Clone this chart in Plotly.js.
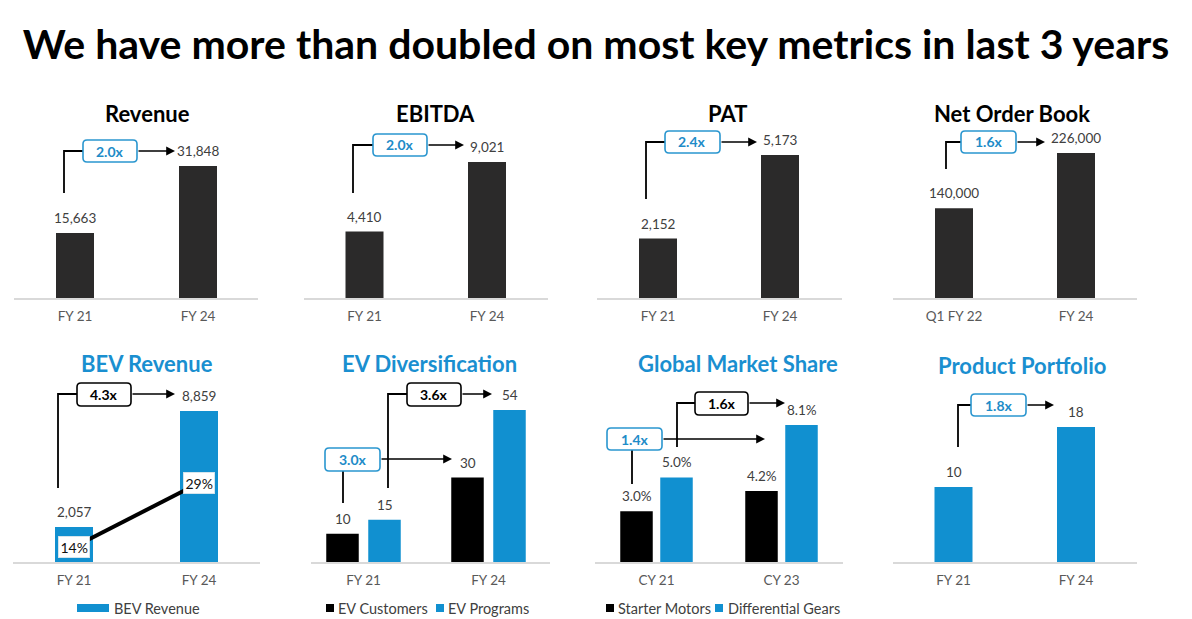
<!DOCTYPE html>
<html><head><meta charset="utf-8">
<script src="https://cdn.plot.ly/plotly-3.0.1.min.js"></script>
<style>html,body{margin:0;padding:0;background:#fff}#chart{width:1192px;height:619px}</style>
</head><body><div id="chart"></div>
<script>
// ---------------- data ----------------
const mainTitle = 'We have more than doubled on most key metrics in last 3 years';
const panelTitles = ['Revenue', 'EBITDA', 'PAT', 'Net Order Book', 'BEV Revenue', 'EV Diversification', 'Global Market Share', 'Product Portfolio'];
const fyPeriods = ['FY 21', 'FY 24'];
const orderBookPeriods = ['Q1 FY 22', 'FY 24'];
const cyPeriods = ['CY 21', 'CY 23'];
const revenue = [15663, 31848];
const ebitda = [4410, 9021];
const pat = [2152, 5173];
const netOrderBook = [140000, 226000];
const bevRevenue = [2057, 8859];
const bevShare = [14, 29];
const evCustomers = [10, 30];
const evPrograms = [15, 54];
const starterMotors = [3.0, 4.2];
const differentialGears = [5.0, 8.1];
const productPortfolio = [10, 18];
const seriesNames = { bev: 'BEV Revenue', evCust: 'EV Customers', evProg: 'EV Programs', starter: 'Starter Motors', diff: 'Differential Gears' };
const multiples = { revenue: '2.0x', ebitda: '2.0x', pat: '2.4x', orderBook: '1.6x', bev: '4.3x', evCust: '3.0x', evProg: '3.6x', starter: '1.4x', diff: '1.6x', portfolio: '1.8x' };

// ---------------- geometry / style ----------------
const W = 1192, H = 619;
const px = x => x / W, py = y => 1 - y / H;
const FONT = 'Lato, "Open Sans", sans-serif';
const DARK = '#2b2a2a', BLACK = '#000000', BLUE = '#1190d0', TITLEBLUE = '#1a8fd0', BOXBLUE = '#2a96cf', LABEL = '#404040', TICK = '#595959';

const geo = [
  {xl: 14,  xr: 258,  c0: 75,    c1: 198,   base: 298, top: 125, tall: 166},
  {xl: 304, xr: 548,  c0: 364.5, c1: 487,   base: 298, top: 125, tall: 162},
  {xl: 597, xr: 842,  c0: 658,   c1: 780,   base: 298, top: 125, tall: 155},
  {xl: 893, xr: 1137, c0: 954,   c1: 1076,  base: 298, top: 125, tall: 153},
  {xl: 13,  xr: 260,  c0: 74,    c1: 199,   base: 562, top: 380, tall: 411},
  {xl: 311, xr: 550,  c0: 363.5, c1: 488.5, base: 562, top: 380, tall: 410},
  {xl: 595, xr: 843,  c0: 656.5, c1: 781.5, base: 562, top: 380, tall: 425},
  {xl: 893, xr: 1137, c0: 953.5, c1: 1076,  base: 562, top: 380, tall: 427}
];
const panelSeries = [[revenue], [ebitda], [pat], [netOrderBook], [bevRevenue], [evCustomers, evPrograms], [starterMotors, differentialGears], [productPortfolio]];

const ax = i => (i === 0 ? '' : String(i + 1));
const traces = [];
const annotations = [];
const shapes = [];
const layout = {
  width: W, height: H,
  margin: {l: 0, r: 0, t: 0, b: 0},
  paper_bgcolor: '#fff', plot_bgcolor: 'rgba(0,0,0,0)',
  showlegend: false, barmode: 'group',
  font: {family: FONT, color: LABEL},
  title: {text: mainTitle, x: 0.5, xanchor: 'center', xref: 'paper', y: 1 - 45 / H, yanchor: 'middle', yref: 'container',
          font: {family: FONT, size: 41, color: '#000', weight: 'bold'}},
  annotations, shapes
};

// axes
geo.forEach((g, i) => {
  const span = g.c1 - g.c0;
  const maxVal = Math.max(...panelSeries[i].flat());
  layout['xaxis' + ax(i)] = {
    domain: [px(g.xl), px(g.xr)], anchor: 'y' + ax(i), type: 'category',
    range: [(g.xl - g.c0) / span, (g.xr - g.c0) / span],
    showline: true, linecolor: '#d9d9d9', linewidth: 1.5, ticks: '', showgrid: false, zeroline: false,
    ticklabelstandoff: 5,
    tickfont: {family: FONT, size: 13.5, color: TICK}, fixedrange: true
  };
  layout['yaxis' + ax(i)] = {
    domain: [py(g.base), py(g.top)], anchor: 'x' + ax(i), visible: false,
    range: [0, (g.base - g.top) * maxVal / (g.base - g.tall)], fixedrange: true
  };
});
// secondary axis for BEV share line
(function () {
  const g = geo[4];
  const pxPer = (547 - 483) / (bevShare[1] - bevShare[0]);
  const lo = bevShare[0] - (g.base - 547) / pxPer;
  const hi = bevShare[0] + (547 - g.top) / pxPer;
  layout.yaxis9 = {overlaying: 'y5', anchor: 'x5', visible: false, range: [lo, hi], fixedrange: true};
})();

const fmtNum = v => v.toLocaleString('en-US');
const fmtPct = v => v.toFixed(1) + '%';

function addBars(i, cats, vals, color, name, widthPx, centerPx, fmt) {
  const g = geo[i], span = g.c1 - g.c0;
  const w = widthPx / span, off = centerPx / span - w / 2;
  traces.push({type: 'bar', x: cats, y: vals, name: name, xaxis: 'x' + ax(i), yaxis: 'y' + ax(i),
    marker: {color: color}, width: w, offset: off, hoverinfo: 'x+y'});
  vals.forEach((v, k) => annotations.push({
    x: k + off + w / 2, y: v, xref: 'x' + ax(i), yref: 'y' + ax(i), yshift: 15,
    text: fmt(v), showarrow: false, xanchor: 'center', yanchor: 'middle',
    font: {family: FONT, size: 13.5, color: LABEL}
  }));
}
addBars(0, fyPeriods, revenue, DARK, panelTitles[0], 38, 0, fmtNum);
addBars(1, fyPeriods, ebitda, DARK, panelTitles[1], 38, 0, fmtNum);
addBars(2, fyPeriods, pat, DARK, panelTitles[2], 38, 0, fmtNum);
addBars(3, orderBookPeriods, netOrderBook, DARK, panelTitles[3], 38, 0, fmtNum);
addBars(4, fyPeriods, bevRevenue, BLUE, seriesNames.bev, 38, 0, fmtNum);
addBars(5, fyPeriods, evCustomers, BLACK, seriesNames.evCust, 32.5, -21, fmtNum);
addBars(5, fyPeriods, evPrograms, BLUE, seriesNames.evProg, 32.5, 21, fmtNum);
addBars(6, cyPeriods, starterMotors, BLACK, seriesNames.starter, 32.5, -20, fmtPct);
addBars(6, cyPeriods, differentialGears, BLUE, seriesNames.diff, 32.5, 20, fmtPct);
addBars(7, fyPeriods, productPortfolio, BLUE, panelTitles[7], 38, 0, fmtNum);

// BEV share line
traces.push({type: 'scatter', mode: 'lines', x: fyPeriods, y: bevShare, xaxis: 'x5', yaxis: 'y9',
  line: {color: '#000', width: 4}, name: 'BEV share', hoverinfo: 'y'});
bevShare.forEach((v, k) => annotations.push({
  x: k, y: v, xref: 'x5', yref: 'y9', text: v + '%', showarrow: false,
  bgcolor: '#fff', bordercolor: '#e6e6e6', borderwidth: 0.5, borderpad: 2,
  font: {family: FONT, size: 14, color: '#111'}
}));

// panel titles
const titlePos = [[147, 114], [435, 114], [727, 114], [1012, 114], [147, 363], [429, 363], [738, 363], [1022, 365]];
panelTitles.forEach((t, i) => annotations.push({
  x: px(titlePos[i][0]), y: py(titlePos[i][1]), xref: 'paper', yref: 'paper', text: t, showarrow: false,
  xanchor: 'center', yanchor: 'middle',
  font: {family: FONT, size: 22, color: i < 4 ? '#000' : TITLEBLUE, weight: 'bold'}
}));

// helpers for connectors
const P = (x, y) => px(x).toFixed(5) + ',' + py(y).toFixed(5);
function poly(points) {
  shapes.push({type: 'path', xref: 'paper', yref: 'paper', path: 'M' + points.map(p => P(p[0], p[1])).join('L'),
    line: {color: '#000', width: 1.8}});
}
function box(x0, y0, x1, y1, color, label) {
  const r = 4;
  const d = 'M' + P(x0 + r, y0) + 'L' + P(x1 - r, y0) + 'Q' + P(x1, y0) + ' ' + P(x1, y0 + r) +
    'L' + P(x1, y1 - r) + 'Q' + P(x1, y1) + ' ' + P(x1 - r, y1) + 'L' + P(x0 + r, y1) +
    'Q' + P(x0, y1) + ' ' + P(x0, y1 - r) + 'L' + P(x0, y0 + r) + 'Q' + P(x0, y0) + ' ' + P(x0 + r, y0) + 'Z';
  shapes.push({type: 'path', xref: 'paper', yref: 'paper', path: d, fillcolor: '#fff', line: {color: color === 'blue' ? BOXBLUE : '#000', width: 1.6}});
  annotations.push({x: px((x0 + x1) / 2), y: py((y0 + y1) / 2), xref: 'paper', yref: 'paper', text: label, showarrow: false,
    xanchor: 'center', yanchor: 'middle', font: {family: FONT, size: 14, color: color === 'blue' ? '#1e8cc8' : '#000', weight: 'bold'}});
}
function arrow(xFrom, xTo, y) {
  annotations.push({x: px(xTo), y: py(y), xref: 'paper', yref: 'paper', text: '', showarrow: true,
    ax: -(xTo - xFrom), ay: 0, axref: 'pixel', ayref: 'pixel', arrowhead: 2, arrowsize: 1.1, arrowwidth: 1.6, arrowcolor: '#000', standoff: 0, startstandoff: 0});
}

// top row
poly([[64, 193], [64, 151], [83, 151]]); box(83, 140, 137, 162, 'blue', multiples.revenue); arrow(137, 175, 151);
poly([[353, 193], [353, 145], [373, 145]]); box(373, 134, 427, 156, 'blue', multiples.ebitda); arrow(427, 464, 145);
poly([[646, 199], [646, 142], [665, 142]]); box(665, 131, 720, 153, 'blue', multiples.pat); arrow(720, 757, 142);
poly([[946, 169], [946, 142], [961, 142]]); box(961, 131, 1016, 153, 'blue', multiples.orderBook); arrow(1016, 1045, 142);
// bottom row
poly([[58, 488], [58, 394], [77, 394]]); box(77, 383, 131, 406, 'black', multiples.bev); arrow(131, 175, 394);
poly([[343, 471], [343, 503]]); arrow(380, 452, 459); box(325, 448, 380, 471, 'blue', multiples.evCust);
poly([[388, 488], [388, 394], [407, 394]]); box(407, 383, 461, 406, 'black', multiples.evProg); arrow(461, 492, 394);
poly([[632, 450], [632, 484]]); arrow(662, 765, 439); box(607, 428, 662, 450, 'blue', multiples.starter);
poly([[677, 447], [677, 403], [695, 403]]); box(695, 392, 748, 415, 'black', multiples.diff); arrow(748, 785, 403);
poly([[958, 447], [958, 405], [971, 405]]); box(971, 394, 1026, 416, 'blue', multiples.portfolio); arrow(1026, 1054, 405);

// manual legends
function legendItem(x0, x1, color, textX, label) {
  shapes.push({type: 'rect', xref: 'paper', yref: 'paper', x0: px(x0), x1: px(x1), y0: py(612), y1: py(604), fillcolor: color, line: {width: 0}});
  annotations.push({x: px(textX), y: py(608), xref: 'paper', yref: 'paper', text: label, showarrow: false, xanchor: 'left', yanchor: 'middle',
    font: {family: FONT, size: 14.5, color: LABEL}});
}
legendItem(77, 109, BLUE, 112, seriesNames.bev);
legendItem(326, 334, BLACK, 336, seriesNames.evCust);
legendItem(436, 444, BLUE, 446, seriesNames.evProg);
legendItem(606, 614, BLACK, 616, seriesNames.starter);
legendItem(715, 723, BLUE, 726, seriesNames.diff);

Plotly.newPlot('chart', traces, layout, {displayModeBar: false, responsive: false, staticPlot: true});
</script>
</body></html>
